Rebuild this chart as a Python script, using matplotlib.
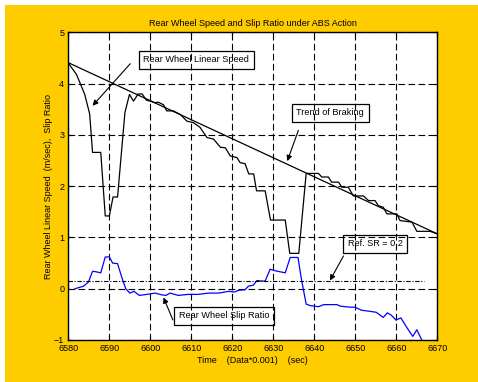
import matplotlib
matplotlib.use("Agg")
import matplotlib.pyplot as plt
from matplotlib.patches import Rectangle

plt.rcParams["font.family"] = ["Liberation Sans", "DejaVu Sans"]

# rear wheel linear speed (m/s) vs time
speed_t = [6580, 6582, 6584, 6585.2, 6585.9, 6587.9, 6589, 6590, 6590.9, 6592,
           6593.8, 6594.9, 6595.9, 6597, 6598, 6599, 6600, 6601.1, 6601.9, 6603.2,
           6604, 6605.6, 6607.3, 6608.9, 6610.5, 6612.1, 6613.8, 6615.4, 6617.1, 6618.3,
           6619.5, 6621.1, 6621.9, 6623.1, 6624, 6625.2, 6625.9, 6628, 6629.3, 6632.9,
           6634, 6636.2, 6638, 6641, 6641.8, 6643.4, 6644.2, 6645.9, 6646.7, 6648.3,
           6649.5, 6652, 6653.2, 6654.8, 6655.6, 6656.8, 6657.7, 6660.1, 6660.9, 6663.8,
           6665, 6668.2, 6670]
speed_v = [4.4, 4.18, 3.79, 3.41, 2.66, 2.66, 1.42, 1.42, 1.79, 1.79,
           3.44, 3.79, 3.66, 3.8, 3.8, 3.68, 3.66, 3.63, 3.64, 3.59,
           3.47, 3.47, 3.4, 3.27, 3.24, 3.15, 2.95, 2.92, 2.76, 2.75,
           2.59, 2.56, 2.46, 2.44, 2.24, 2.24, 1.91, 1.91, 1.34, 1.34,
           0.69, 0.69, 2.25, 2.25, 2.18, 2.18, 2.08, 2.08, 1.98, 1.98,
           1.81, 1.81, 1.72, 1.72, 1.62, 1.59, 1.46, 1.46, 1.33, 1.30,
           1.12, 1.12, 1.07]

# rear wheel slip ratio
slip_t = [6581.6, 6583.7, 6584.9, 6585.9, 6586.8, 6587.9, 6589, 6590, 6590.8, 6592,
          6593, 6594, 6595, 6596, 6597.3, 6598.3, 6600, 6601.2, 6602.8, 6603.8,
          6604.8, 6606.8, 6609.3, 6611.7, 6614.2, 6616.7, 6619.2, 6620.4, 6621.6, 6623.1,
          6623.9, 6625.1, 6626, 6627.2, 6628, 6629.2, 6630.5, 6632.9, 6634.1, 6636,
          6636.9, 6638, 6639, 6641, 6642.3, 6645.5, 6646.3, 6648.7, 6649.9, 6651.5,
          6653.5, 6655.1, 6656.8, 6657.8, 6658.8, 6659.9, 6661.1, 6662.5, 6664, 6665,
          6666.2]
slip_v = [0.0, 0.05, 0.13, 0.34, 0.33, 0.31, 0.62, 0.62, 0.50, 0.49,
          0.23, 0.0, -0.085, -0.05, -0.13, -0.12, -0.1, -0.085, -0.12, -0.13,
          -0.085, -0.13, -0.11, -0.11, -0.085, -0.085, -0.05, -0.065, -0.03, -0.02,
          0.05, 0.07, 0.16, 0.15, 0.15, 0.38, 0.35, 0.31, 0.61, 0.61,
          0.16, -0.3, -0.33, -0.35, -0.31, -0.31, -0.34, -0.36, -0.36, -0.42,
          -0.44, -0.46, -0.56, -0.47, -0.52, -0.61, -0.57, -0.75, -0.93, -0.80,
          -1.0]

trend_t = [6580, 6670]
trend_v = [4.41, 1.07]

ref_t = [6580, 6666.8]
ref_v = [0.15, 0.15]

x_ticks = list(range(6580, 6671, 10))
y_ticks = [-1, 0, 1, 2, 3, 4, 5]

fig = plt.figure(figsize=(4.78, 3.82), dpi=100)
fig.patch.set_facecolor("#FFCC00")
# thin white strip along the top and left edge
fig.patches.append(Rectangle((0, 1 - 5 / 382), 1, 5 / 382, transform=fig.transFigure,
                             facecolor="white", edgecolor="none", zorder=-10))
fig.patches.append(Rectangle((0, 0), 5 / 478, 1, transform=fig.transFigure,
                             facecolor="white", edgecolor="none", zorder=-10))

ax = fig.add_axes([0.143, 0.110, 0.772, 0.805])
ax.set_facecolor("white")

ax.plot(speed_t, speed_v, color="black", linewidth=0.9, zorder=3)
ax.plot(trend_t, trend_v, color="black", linewidth=0.9, zorder=3)
ax.plot(slip_t, slip_v, color="#0000FF", linewidth=0.9, zorder=3)
ax.plot(ref_t, ref_v, color="black", linewidth=0.8, linestyle=(0, (4, 1.5, 1, 1.5)), zorder=3)

ax.set_xlim(6580, 6670)
ax.set_ylim(-1, 5)
ax.set_xticks(x_ticks)
ax.set_yticks(y_ticks)
ax.tick_params(direction="in", top=True, right=True, length=3, width=0.8,
               labelsize=6.5, pad=3)
ax.grid(True, color="black", linewidth=0.8, linestyle=(0, (6, 3)), zorder=2.5)
ax.set_axisbelow(False)
for spine in ax.spines.values():
    spine.set_linewidth(1.0)

ax.set_title("Rear Wheel Speed and Slip Ratio under ABS Action", fontsize=6.5, pad=5)
ax.set_xlabel("Time    (Data*0.001)    (sec)", fontsize=6.5, labelpad=2)
ax.set_ylabel("Rear Wheel Linear Speed  (m/sec),  Slip Ratio", fontsize=6.5, labelpad=1)

box = dict(boxstyle="square,pad=0.5", facecolor="white", edgecolor="black", linewidth=0.9)
arrow = dict(arrowstyle="-|>", color="black", lw=0.8, mutation_scale=8, shrinkA=0, shrinkB=0)

ax.text(6598.3, 4.47, "Rear Wheel Linear Speed", fontsize=6.6, ha="left", va="center",
        bbox=box, zorder=2)
ax.annotate("", xy=(6585.9, 3.57), xytext=(6595.1, 4.39), arrowprops=arrow, zorder=4)

ax.text(6635.6, 3.43, "Trend of Braking", fontsize=6.6, ha="left", va="center",
        bbox=box, zorder=2)
ax.annotate("", xy=(6633.4, 2.49), xytext=(6636.1, 3.09), arrowprops=arrow, zorder=4)

ax.text(6648.2, 0.88, "Ref. SR = 0.2", fontsize=6.6, ha="left", va="center",
        bbox=box, zorder=2)
ax.annotate("", xy=(6643.8, 0.16), xytext=(6647.1, 0.64), arrowprops=arrow, zorder=4)

ax.text(6607.0, -0.53, "Rear Wheel Slip Ratio", fontsize=6.6, ha="left", va="center",
        bbox=box, zorder=2)
ax.annotate("", xy=(6603.2, -0.17), xytext=(6605.5, -0.61), arrowprops=arrow, zorder=4)

fig.savefig("out.png", dpi=100)
